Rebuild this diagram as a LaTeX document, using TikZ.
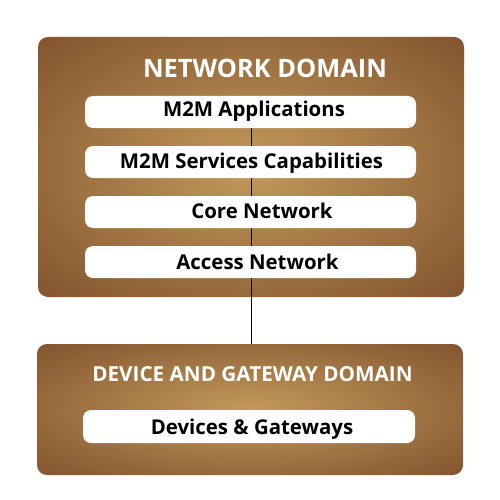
\documentclass[tikz,border=0pt]{standalone}
\usepackage{fontspec}
\setmainfont{Open Sans}
\definecolor{darkbrown}{HTML}{7B4B29}
\definecolor{lightbrown}{HTML}{C29A5A}
\pgfdeclareradialshading{brownglow}{\pgfpoint{0bp}{0bp}}{color(0bp)=(lightbrown); color(40bp)=(darkbrown); color(50bp)=(darkbrown)}
\begin{document}
\begin{tikzpicture}[x=1pt,y=-1pt,
  domainbox/.style={shading=brownglow, draw=none, rounded corners=10pt, inner sep=0pt},
  layerbar/.style={fill=white, draw=none, rounded corners=8pt, minimum width=331pt, minimum height=32pt, inner sep=0pt},
  barlabel/.style={anchor=base, inner sep=0pt, text=black, font=\bfseries\fontsize{20.4}{23}\selectfont},
  domaintitle/.style={anchor=base, text=white, inner sep=0pt}]
\useasboundingbox (0,0) rectangle (500,500);
\node[domainbox, minimum width=426pt, minimum height=260pt] (net) at (251,167) {};
\node[domainbox, minimum width=426pt, minimum height=131pt] (dev) at (250,409.5) {};
\coordinate (lx) at (251,112);
\draw[black, line width=0.8pt] (lx) -- (lx |- dev.north);
\node[domaintitle, font=\bfseries\fontsize{25.4}{28}\selectfont] (nettitle) at (265,77.3) {NETWORK DOMAIN};
\node[layerbar] (app) at (250.5,112) {};
\node[layerbar] (svc) at (250.5,162) {};
\node[layerbar] (core) at (250.5,212) {};
\node[layerbar] (acc) at (250.5,262) {};
\node[barlabel] (applbl) at (254,116.7) {M2M Applications};
\node[barlabel] (svclbl) at (251.5,168.3) {M2M Services Capabilities};
\node[barlabel] (corelbl) at (262,218.3) {Core Network};
\node[barlabel] (acclbl) at (257.5,269.3) {Access Network};
\node[domaintitle, font=\bfseries\fontsize{20.7}{23}\selectfont] (devtitle) at (252.5,381.7) {DEVICE AND GATEWAY DOMAIN};
\node[layerbar, minimum width=332pt, minimum height=33pt] (dg) at (249,426.5) {};
\node[barlabel] (dglbl) at (252,434) {Devices \& Gateways};
\end{tikzpicture}
\end{document}
